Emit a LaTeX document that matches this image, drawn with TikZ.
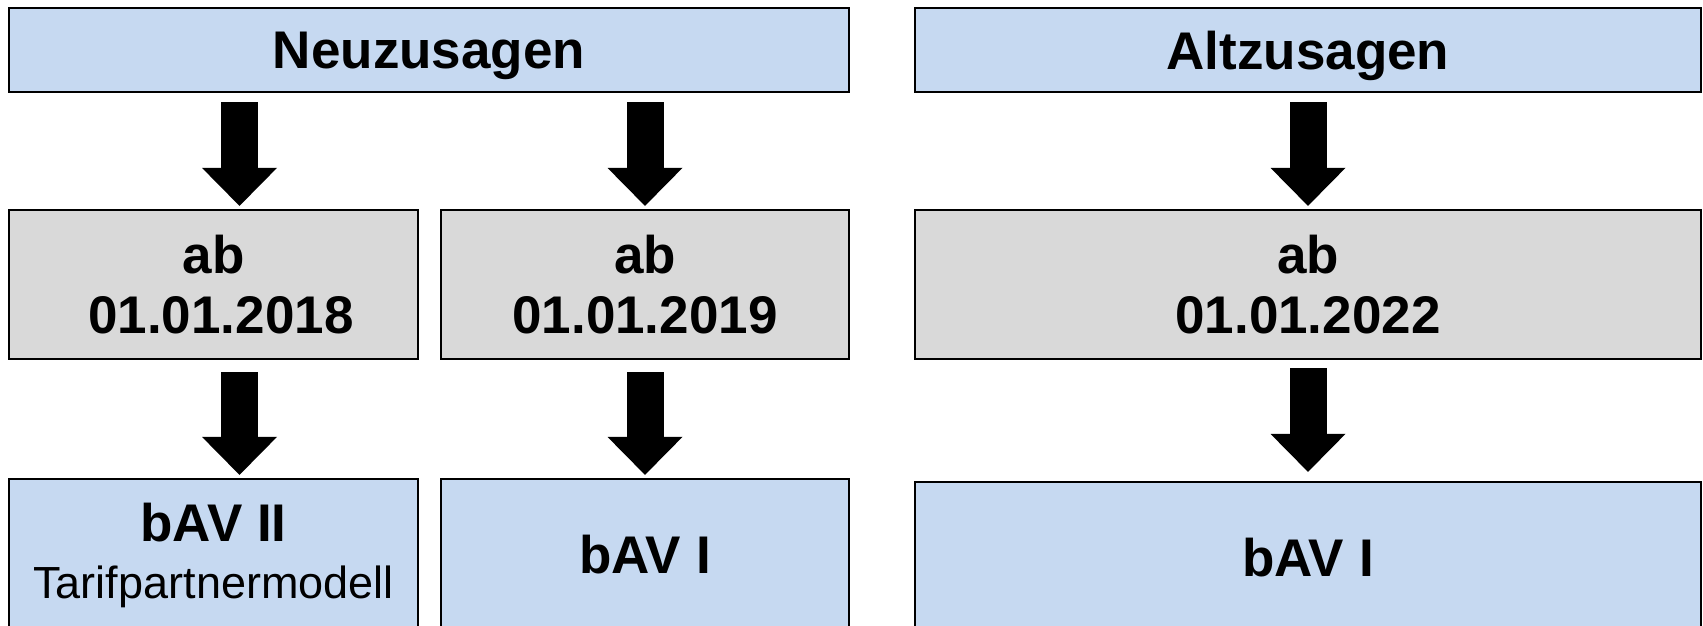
\documentclass[tikz,border=0pt]{standalone}
\usepackage{fontspec}
\setmainfont{Liberation Sans}
\usetikzlibrary{arrows.meta}
\definecolor{hellblau}{RGB}{198,217,241}
\definecolor{hellgrau}{RGB}{217,217,217}

\begin{document}
\begin{tikzpicture}[x=1pt,y=-1pt,
  kasten/.style={draw=black,line width=2.2pt,inner sep=0pt,align=center,
    font=\fontsize{53}{60}\selectfont\bfseries},
  kopf/.style={kasten,fill=hellblau,minimum height=84pt,text depth=0pt},
  datum/.style={kasten,fill=hellgrau,minimum height=149pt},
  modell/.style={kasten,fill=hellblau,minimum height=152pt},
  pfeil/.style={line width=37pt,-{Triangle[width=75pt,length=38pt,line width=0pt]}}]

\useasboundingbox (0,0) rectangle (1703,626);

\node[kopf,minimum width=840pt] (neu) at (429,50) {Neuzusagen};
\node[kopf,minimum width=786pt] (alt) at (1308,50) {Altzusagen};

\node[datum,minimum width=409pt] (ab18) at (213.5,284.5) {ab\\\hspace*{.28em}01.01.2018};
\node[datum,minimum width=408pt] (ab19) at (645,284.5) {ab\\01.01.2019};
\node[datum,minimum width=786pt] (ab22) at (1308,284.5) {ab\\01.01.2022};

\node[modell,minimum width=409pt] (bav2) at (213.5,555) {bAV II\\[-3pt]{\fontsize{45}{54}\selectfont\mdseries Tarifpartnermodell}};
\node[modell,minimum width=408pt] (bav1n) at (645,555) {bAV I};
\node[modell,minimum width=786pt] (bav1a) at (1308,558) {bAV I};

\draw[pfeil,shorten <=9pt,shorten >=3pt] ([xshift=26pt]ab18.north |- neu.south) -- ([xshift=26pt]ab18.north);
\draw[pfeil,shorten <=9pt,shorten >=3pt] (ab19.north |- neu.south) -- (ab19.north);
\draw[pfeil,shorten <=9pt,shorten >=3pt] (alt.south) -- (ab22.north);

\draw[pfeil,shorten <=12pt,shorten >=3pt] ([xshift=26pt]ab18.south) -- ([xshift=26pt]bav2.north);
\draw[pfeil,shorten <=12pt,shorten >=3pt] (ab19.south) -- (bav1n.north);
\draw[pfeil,shorten <=8pt,shorten >=9pt] (ab22.south) -- (bav1a.north);

\end{tikzpicture}
\end{document}
